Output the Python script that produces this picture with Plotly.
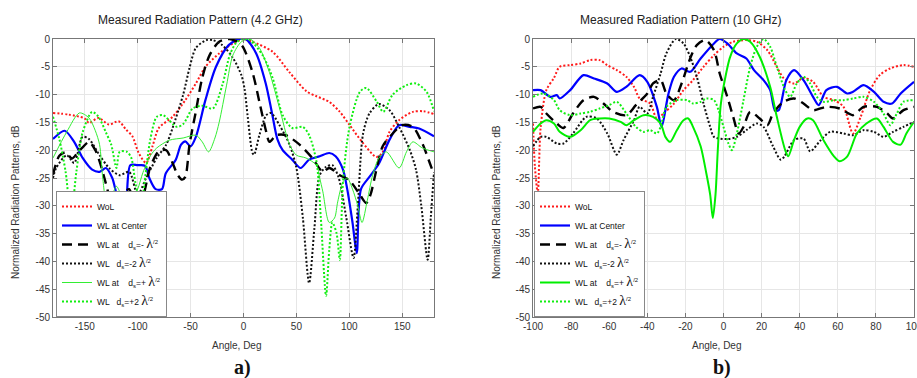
import plotly.graph_objects as go

# ---------------- data: (a) 4.2 GHz ----------------
ang_wol_a = [-180,-165,-150,-146,-137,-127,-118,-111,-105,-99,-92,-86,-80,-67,-55,-45,-36,-23,-10,0,8.5,27.5,43.5,59.5,69,81,91,100,112,125.5,131,138,147,160,170,180]
db_wol_a = [-13.3,-13.6,-14.3,-15.1,-14.2,-15.4,-14.8,-16.3,-17.5,-20.5,-22.3,-19.3,-16,-14,-11,-8,-5,-2.6,-0.8,0,-0.5,-2.3,-6,-9.4,-10.3,-11.3,-13.1,-15.4,-18.5,-21.2,-20.5,-16.7,-14.6,-13.1,-13,-13.5]

ang_ctr_a = [-180,-169,-160,-152,-143,-136,-130,-124,-118,-112,-107,-100,-93,-89,-83,-77,-73.5,-64,-59,-55,-50,-45,-36,-26,-14,-4,2,12,21,27,32,37,46,54,62,72,81,87,94,98,103,107,111,119,128,138,147,157,166,180]
db_ctr_a = [-18,-16.5,-18.5,-21.4,-23.5,-23.9,-23.2,-25,-29,-30,-22.7,-22.7,-22.8,-25,-27,-27,-24.2,-21.7,-19,-18.4,-19.3,-17.6,-11,-5,-1.1,0,0,-2.6,-8,-13.4,-18,-20,-21.7,-23.2,-21.7,-21.1,-20.5,-21.1,-23.5,-27,-33,-38.5,-27,-24.8,-22.4,-18.1,-15.5,-15.8,-16.1,-17.5]

ang_m1_a = [-180,-174,-168,-162,-157,-152,-146,-140,-136,-130,-125,-120,-114,-108,-103,-98,-93,-88,-80,-73,-67,-62,-58,-55,-51,-45,-39,-32,-23,-13,-8,-1,8.5,15,21.5,24.5,31,40,53,65,75,81,91,100,110,116,120,125,131.5,141,150,160,169,176,180]
db_m1_a = [-24.4,-21,-20.4,-21.5,-20.5,-19.5,-18.5,-20,-22,-26,-29.5,-31,-28,-27,-30,-31,-27,-23,-20.2,-20,-22.3,-24.5,-25.3,-24.8,-19,-13,-7,-2.9,-0.5,0,-0.3,-1.3,-6,-11.3,-16.7,-18.5,-17.3,-17.3,-19,-21.4,-23.9,-23.2,-24.5,-25.4,-28,-29.5,-28,-24,-19.3,-17,-15.5,-15.8,-18.8,-22.3,-24.4]

ang_m2_a = [-180,-177,-167,-160,-152,-146,-136,-127,-117,-108,-100,-92,-82,-73,-67,-57,-51,-45,-35,-29,-20,-10,-2,1,4,8.5,10,15,21.5,26,34,43.5,50,56,62,67,72,78,84,90,97,104,108,113,119,128,138,147,157,163,168,174,177,180]
db_m2_a = [-25,-23.2,-20.9,-22.3,-17.6,-18,-20.9,-23.2,-24.5,-23.9,-28,-25,-21.4,-19,-16,-10,-5.2,-1.6,-0.2,-0.2,-1.1,-3.4,-6.5,-9,-14,-20.5,-20.8,-17.3,-13.7,-13.3,-15.5,-19,-23.2,-32,-43.9,-34,-24.5,-23,-22.7,-25,-32,-39.4,-30,-17,-13.4,-11.7,-12.8,-15.8,-19.9,-23.5,-30,-39.7,-32,-24]

ang_p1_a = [-180,-167,-155,-146,-140,-136,-133,-129,-124,-120,-116,-112,-106,-100,-95,-88,-82,-70,-57,-45,-39,-33,-27,-23,-16,-10,-2,6,15,24.5,34,43.5,50,59,69,72,75,81,86,89,94,98,103,108,112,117,122,128,135,147,154,160,169,180]
db_p1_a = [-21.4,-16.7,-13.3,-14.2,-16.5,-19,-25,-30,-28,-26.5,-28,-31,-29,-27,-24,-21,-19.6,-18.2,-17.8,-17.3,-18.5,-20.3,-17.8,-15,-8.3,-2.9,-0.5,0,-1.6,-6,-12.4,-19,-20.9,-21.4,-22.7,-25,-27.5,-33,-32.2,-29.3,-25.7,-25,-27,-30,-33,-29,-24.5,-21.4,-20.3,-23.2,-20.3,-18.5,-19.6,-20.3]

ang_p2_a = [-180,-174,-168,-163,-158,-152,-143,-137,-130,-125,-120,-117,-110,-106,-102,-97,-93,-88,-82,-76,-63,-57,-48,-39,-29,-20,-13,-7,-1,6,18,27.5,37,46,56,62,69,73,78,81,84,88,91,94,100,110,116,126,132,141,154,163,173,180]
db_p2_a = [-14,-18,-24,-32,-24,-16.8,-13.1,-14,-16.8,-19,-23.2,-20.3,-20.3,-21.4,-26,-30,-25,-18,-14,-13.7,-15.8,-15.3,-12.5,-12,-12.5,-8.3,-2.9,-0.7,0,-0.2,-2.9,-7,-13.7,-16,-15.8,-17.3,-22.1,-32,-46.2,-38,-33,-35,-39.7,-25.7,-16,-9.5,-8.8,-11.3,-13.1,-10,-8.3,-8,-9.5,-13]

# ---------------- data: (b) 10 GHz ----------------
ang_wol_b = [-100,-99,-97.5,-96,-93,-89,-86,-80.5,-75,-70,-65,-61,-56,-51,-47,-44,-38.5,-35,-31.5,-26,-21,-16,-10.5,-5,0,5,12,17.5,23,28,31.5,37,42,47,52.5,58,63,68,72,77,82,87.5,94.5,100]
db_wol_b = [-15.2,-23,-27.7,-16,-9.2,-7,-5,-4.7,-4.4,-3.8,-3.8,-4.7,-5.6,-6.8,-8.6,-10.7,-11.6,-14.3,-13.4,-11.6,-9.2,-7.4,-5,-2.9,-1.4,-0.5,-0.2,-0.5,-2,-5,-7,-8,-7,-7.7,-10.4,-11,-12.2,-17,-14,-9.2,-6.5,-5.3,-4.7,-5]

ang_ctr_b = [-100,-96,-91,-87.5,-86,-80.5,-73.5,-68,-61,-56,-51,-44,-40,-35,-32.5,-29,-26,-22,-17.5,-12,-5,-2,2,7,12,16,21,24.5,27,29,33,37,42,47,50,54,59.5,65,68,73.5,79,84,88.5,93,100]
db_ctr_b = [-9.2,-9.2,-10.4,-10.1,-10.7,-9.2,-6.5,-7.1,-8,-9.5,-8.6,-6.5,-7.7,-12.2,-15.8,-10,-6.8,-5.3,-5.9,-3.5,-0.8,0,-0.8,-2.6,-3.5,-5.6,-7.4,-9.2,-12.8,-12.8,-7.4,-5.6,-7.4,-10.4,-11.9,-9.2,-8.6,-9.8,-9.5,-8.3,-9.5,-11.3,-11.6,-9.8,-7.7]

ang_m1_b = [-100,-96,-93,-87.5,-84,-79,-73.5,-68,-63,-58,-51,-46,-40,-37,-33,-30,-26,-22,-17.5,-14,-9.5,-5,-2,2,5,8,10.5,14,19,23,26,31.5,37,42,47,54,61,68,73.5,80.5,86,89,94.5,100]
db_m1_b = [-12.5,-12.2,-13.4,-15.2,-16,-13.4,-11,-10.4,-11.6,-13.1,-13.7,-11.9,-9.8,-8,-7.4,-9.8,-11,-8,-3.5,-1.1,-0.2,-2,-6.2,-10.4,-13.9,-17,-15.8,-13.1,-14.3,-15.5,-13.4,-11.3,-10.7,-11.6,-12.8,-12.2,-12.5,-13.7,-12.2,-12.2,-13.4,-14.3,-12.8,-12.2]

ang_m2_b = [-100,-96,-93,-87.5,-84,-79,-72,-66.5,-61,-56,-52.5,-47,-44,-40,-37,-33,-30,-25,-21,-17.5,-14,-10.5,-7,-5,2,7,12,17.5,21,26,30,32,37,42,45.5,51,56,63,68,73.5,79,84,89,94.5,100]
db_m2_b = [-19.3,-17.6,-17.6,-18.8,-18.8,-17,-14,-14.3,-17,-20.8,-18.2,-14.6,-12.2,-13.4,-10.4,-6.2,-2.6,0,-0.8,-3.2,-6.8,-11.6,-15.8,-17.6,-18,-17.6,-16.4,-15.2,-15.8,-19.3,-21.7,-21.1,-18.2,-17.9,-20.2,-18.2,-16.7,-17,-17.3,-16.4,-16.7,-17.6,-16.7,-15.8,-14.9]

ang_p1_b = [-100,-96,-93,-89,-86,-80.5,-75,-70,-65,-60,-54,-51,-47,-42,-37,-33,-30.5,-28,-24.5,-21,-18.5,-16,-12,-9,-7,-5.6,-4.2,-3,-1.5,0,3.5,7,10.5,14,19,24.5,28,32.4,34,37,40,44,47,52.5,58,61,65,70,75,80.5,84,89,93,96,100]
db_p1_b = [-16.7,-15.2,-14.6,-15.2,-16.7,-17.6,-16.4,-14.6,-14.3,-14.3,-14.9,-15.5,-14.6,-13.7,-14,-15.2,-17.6,-18.5,-16.4,-14.6,-14.3,-15.8,-19.3,-24.2,-28,-32.2,-28,-20,-12,-8.6,-3.2,-0.8,0,-0.5,-3.2,-8.6,-14,-20,-21.1,-18.2,-15.8,-14.3,-14.6,-18.2,-21.1,-22,-21.1,-17,-15.2,-14.3,-15.8,-18.5,-19,-17,-14.9]

ang_p2_b = [-100,-94.5,-89,-86,-80.5,-75,-70,-65,-60,-56,-51,-46,-42,-38.5,-35,-33,-30,-24.5,-19,-16,-12,-9,-5,-2.6,0,2.6,4.4,7,10.5,14,17.5,21,24.5,28,32.4,35,38.5,42,45.5,49,52.5,58,63,68,73.5,79,84,87.5,91,94.5,100]
db_p2_b = [-10.4,-9.8,-11,-12.8,-13.7,-13.4,-13.1,-12.5,-11.9,-11.3,-13.4,-15.8,-16.7,-16.4,-17,-15.8,-12.2,-11,-11,-11.6,-11.3,-10.7,-11,-12.8,-15.8,-18.8,-20,-17,-11,-5,-1.4,0,-1.4,-5,-9.2,-10.4,-8,-6.8,-8,-10.4,-11.3,-11,-11,-10.7,-10.4,-11.3,-13.4,-15.5,-13.4,-11.3,-11]

# ---------------- labels ----------------
LAM = "<span style='font-family:Liberation Serif;font-size:14px'>λ</span><sup>/2</sup>"
names = ["WoL", "WL at Center",
         "WL at \u00a0\u00a0\u00a0d<sub>s</sub>=- " + LAM,
         "WL \u00a0\u00a0d<sub>s</sub>=-2 " + LAM,
         "WL at \u00a0\u00a0\u00a0d<sub>s</sub>=+ " + LAM,
         "WL \u00a0\u00a0d<sub>s</sub>=+2 " + LAM]
titles = ["Measured Radiation Pattern (4.2 GHz)", "Measured Radiation Pattern (10 GHz)"]
panel_labels = ["a)", "b)"]
y_ticks = [0, -5, -10, -15, -20, -25, -30, -35, -40, -45, -50]
y_ticktext = ["0", "-5", "-10", "-15", "-20", "-25", "-30", "-35", "-40", "-45", "-50"]
xa_ticks = [-150, -100, -50, 0, 50, 100, 150]
xa_ticktext = ["-150", "-100", "-50", "0", "50", "100", "150"]
xb_ticks = [-100, -80, -60, -40, -20, 0, 20, 40, 60, 80, 100]
xb_ticktext = ["-100", "-80", "-60", "-40", "-20", "0", "20", "40", "60", "80", "100"]

W, H = 917, 378
fig = go.Figure()

DOT = "2px,2px"
styles_a = [
    dict(color="#ff1a1a", width=2, dash=DOT),
    dict(color="#0000ff", width=2.2, dash="solid"),
    dict(color="#000000", width=2.4, dash="10px,6px"),
    dict(color="#111111", width=2, dash=DOT),
    dict(color="#33ee33", width=1, dash="solid"),
    dict(color="#11ee11", width=2, dash=DOT),
]
styles_b = [
    dict(color="#ff1a1a", width=2, dash=DOT),
    dict(color="#0000ff", width=2.2, dash="solid"),
    dict(color="#000000", width=2.4, dash="10px,6px"),
    dict(color="#111111", width=2, dash=DOT),
    dict(color="#00ee00", width=2, dash="solid"),
    dict(color="#11ee11", width=2, dash=DOT),
]

series_a = [(ang_wol_a, db_wol_a), (ang_ctr_a, db_ctr_a), (ang_m1_a, db_m1_a),
            (ang_m2_a, db_m2_a), (ang_p1_a, db_p1_a), (ang_p2_a, db_p2_a)]
series_b = [(ang_wol_b, db_wol_b), (ang_ctr_b, db_ctr_b), (ang_m1_b, db_m1_b),
            (ang_m2_b, db_m2_b), (ang_p1_b, db_p1_b), (ang_p2_b, db_p2_b)]

for (xs, ys), st, nm in zip(series_a, styles_a, names):
    fig.add_trace(go.Scatter(x=xs, y=ys, mode="lines", name=nm,
                             line=dict(shape="spline", smoothing=0.8, **st),
                             xaxis="x", yaxis="y", legend="legend"))
for (xs, ys), st, nm in zip(series_b, styles_b, names):
    fig.add_trace(go.Scatter(x=xs, y=ys, mode="lines", name=nm,
                             line=dict(shape="spline", smoothing=0.8, **st),
                             xaxis="x2", yaxis="y2", legend="legend2"))

tickfont = dict(family="Liberation Sans, Arial", size=10, color="#333")
common_axis = dict(showgrid=True, gridcolor="#e6e6e6", gridwidth=1, zeroline=False,
                   showline=True, linecolor="#777", linewidth=1, mirror="ticks",
                   ticks="inside", ticklen=4, tickcolor="#777", tickfont=tickfont,
                   automargin=False, ticklabeloverflow="allow")

ytop, ybot = 1 - 39 / H, 1 - 317 / H
legend_style = dict(xanchor="left", yanchor="top", bgcolor="white", bordercolor="#888",
                    borderwidth=1, tracegroupgap=0,
                    font=dict(family="Liberation Sans, Arial", size=8.5, color="#111"))
fig.update_layout(
    width=W, height=H, margin=dict(l=0, r=0, t=0, b=0, pad=0, autoexpand=False),
    paper_bgcolor="white", plot_bgcolor="white",
    font=dict(family="Liberation Sans, Arial", size=9, color="#222"),
    xaxis=dict(domain=[53 / W, 434 / W], range=[-180, 180], tickvals=xa_ticks,
               ticktext=xa_ticktext, anchor="y", **common_axis),
    yaxis=dict(domain=[ybot, ytop], range=[-50, 0], tickvals=y_ticks,
               ticktext=y_ticktext, anchor="x", **common_axis),
    xaxis2=dict(domain=[533 / W, 914 / W], range=[-100, 100], tickvals=xb_ticks,
                ticktext=xb_ticktext, anchor="y2", **common_axis),
    yaxis2=dict(domain=[ybot, ytop], range=[-50, 0], tickvals=y_ticks,
                ticktext=y_ticktext, anchor="x2", **common_axis),
    legend=dict(x=56 / W, y=1 - 191 / H, **legend_style),
    legend2=dict(x=534 / W, y=1 - 191 / H, **legend_style),
    showlegend=True,
)

ann = []
for cx, t in zip([200, 680], titles):
    ann.append(dict(x=cx / W, y=1 - 20 / H, xref="paper", yref="paper", text=t,
                    xanchor="center", yanchor="middle",
                    showarrow=False, font=dict(size=12, color="#222")))
for cx in [236, 716]:
    ann.append(dict(x=cx / W, y=1 - 345 / H, xref="paper", yref="paper", text="Angle, Deg",
                    xanchor="center", yanchor="middle",
                    showarrow=False, font=dict(size=10, color="#333")))
for cx in [15, 496]:
    ann.append(dict(x=cx / W, y=1 - 202 / H, xref="paper", yref="paper",
                    text="Normalized Radiation Patterns, dB", textangle=-90,
                    xanchor="center", yanchor="middle",
                    showarrow=False, font=dict(size=10, color="#333")))
for cx, t in zip([242, 722], panel_labels):
    ann.append(dict(x=cx / W, y=1 - 367 / H, xref="paper", yref="paper", text="<b>" + t + "</b>",
                    xanchor="center", yanchor="middle",
                    showarrow=False, font=dict(family="Liberation Serif, DejaVu Serif", size=20, color="#111")))
fig.update_layout(annotations=ann)

fig.write_html("out.html", config={"displayModeBar": False},
               post_script="document.body.style.margin='0';")
